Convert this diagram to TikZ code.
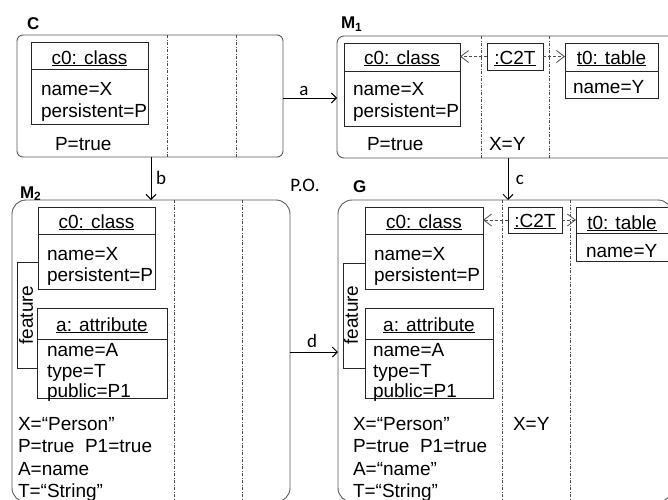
\documentclass[tikz,border=0pt]{standalone}
\usepackage{fontspec}
\setmainfont{Liberation Sans}
\newfontfamily\calib{Carlito}
\usetikzlibrary{arrows.meta}
\begin{document}
\begin{tikzpicture}[x=1pt,y=-1pt,
  txt/.style={inner sep=0pt, outer sep=0pt, font=\fontsize{19}{22}\selectfont, anchor=base west},
  ttl/.style={inner sep=0pt, outer sep=0pt, font=\fontsize{19}{22}\selectfont, anchor=base},
  lbl/.style={inner sep=0pt, outer sep=0pt, font=\fontsize{17}{20}\selectfont\bfseries, anchor=base west},
  elbl/.style={inner sep=0pt, outer sep=0pt, font=\calib\fontsize{19}{20}\selectfont},
  outerbox/.style={draw=black!65, line width=0.9pt, inner sep=0pt, outer sep=0pt},
  cls/.style={draw=black!85, line width=1pt, inner sep=0pt, outer sep=0pt},
  sep/.style={draw=black!70, line width=0.7pt, dash pattern=on 3pt off 1.5pt on 1pt off 1.5pt},
  arr/.style={draw=black, line width=0.9pt, -{Straight Barb[length=5pt,width=10pt]}},
  darr/.style={draw=black!70, line width=0.8pt, dash pattern=on 3pt off 2pt, -{Straight Barb[length=8pt,width=12pt]}},
]
\useasboundingbox (0,0) rectangle (668,499);

% ---------- outer boxes ----------
\node[outerbox, rounded corners=6pt, minimum width=266, minimum height=122] (C) at (150,96) {};
\node[outerbox, rounded corners=7pt, minimum width=353, minimum height=122] (M1) at (513.5,97) {};
\node[outerbox, rounded corners=14pt, minimum width=278, minimum height=302] (M2) at (151,351) {};
\node[outerbox, rounded corners=14pt, minimum width=334, minimum height=302] (G) at (505,351) {};

% labels
\node[lbl] (lC) at (27,29.5) {C};
\node[lbl] (lM1) at (341,28.5) {M\textsubscript{1}};
\node[lbl] (lM2) at (20,198) {M\textsubscript{2}};
\node[lbl] (lG) at (353,192) {G};
\node[elbl] (PO) at (305,185) {P.O.};

% separators
\draw[sep] (C.north -| 167,0) -- (C.south -| 167,0);
\draw[sep] (C.north -| 236,0) -- (C.south -| 236,0);
\draw[sep] (M1.north -| 481,0) -- (M1.south -| 481,0);
\draw[sep] (M1.north -| 549,0) -- (M1.south -| 549,0);
\draw[sep] (M2.north -| 174,0) -- (M2.south -| 174,0);
\draw[sep] (M2.north -| 242,0) -- (M2.south -| 242,0);
\draw[sep] (G.north -| 502,0) -- (G.south -| 502,0);
\draw[sep] (G.north -| 570,0) -- (G.south -| 570,0);

% ---------- C ----------
\node[cls, fill=white, minimum width=117, minimum height=82] (Cc0) at (89.5,83) {};
\draw[cls] (Cc0.west |- 0,69) -- (Cc0.east |- 0,69);
\node[ttl] (Cc0t) at (89.5,64) {\underline{c0: class}};
\node[txt] (Cc0a) at (41,95) {name=X};
\node[txt] (Cc0b) at (41,117) {persistent=P};
\node[txt] (Cp) at (55,150) {P=true};

% ---------- M1 ----------
\node[cls, fill=white, minimum width=116, minimum height=83] (M1c0) at (402,84.5) {};
\draw[cls] (M1c0.west |- 0,71) -- (M1c0.east |- 0,71);
\node[ttl] (M1c0t) at (402,64) {\underline{c0: class}};
\node[txt] (M1c0a) at (353,95) {name=X};
\node[txt] (M1c0b) at (353,117) {persistent=P};
\node[cls, fill=white, minimum width=56, minimum height=27] (M1m) at (515,56.5) {};
\node[ttl] (M1mt) at (515,64) {\underline{:C2T}};
\node[cls, fill=white, minimum width=93, minimum height=55] (M1t0) at (611.5,70.5) {};
\draw[cls] (M1t0.west |- 0,71) -- (M1t0.east |- 0,71);
\node[ttl] (M1t0t) at (611.5,64) {\underline{t0: table}};
\node[txt] (M1t0a) at (573,93) {name=Y};
\node[txt] (M1p) at (367,150) {P=true};
\node[txt] (M1x) at (489,150) {X=Y};
\draw[darr] (M1m.west) -- (M1c0.east |- M1m.west);
\draw[darr] (M1m.east) -- (M1t0.west |- M1m.east);

% ---------- M2 ----------
\node[cls, fill=white, minimum width=117, minimum height=82] (M2c0) at (96.5,248) {};
\draw[cls] (M2c0.west |- 0,234) -- (M2c0.east |- 0,234);
\node[ttl] (M2c0t) at (96.5,228) {\underline{c0: class}};
\node[txt] (M2c0a) at (47,260) {name=X};
\node[txt] (M2c0b) at (47,281) {persistent=P};
\node[cls, fill=white, minimum width=130, minimum height=90] (M2at) at (102,353) {};
\draw[cls] (M2at.west |- 0,339) -- (M2at.east |- 0,339);
\node[ttl] (M2att) at (102,331) {\underline{a: attribute}};
\node[txt] (M2ata) at (47,356) {name=A};
\node[txt] (M2atb) at (47,377) {type=T};
\node[txt] (M2atc) at (47,397) {public=P1};
\draw[cls] (M2c0.west |- 0,262) -- (17,262) -- (17,368) -- (M2at.west |- 0,368);
\node[inner sep=0pt, font=\fontsize{19}{22}\selectfont, rotate=90] (M2f) at (26,315) {feature};
\node[txt] (M2v1) at (18,430) {X=“Person”};
\node[txt] (M2v2) at (18,452) {P=true\ \ P1=true};
\node[txt] (M2v3) at (18,475) {A=name};
\node[txt] (M2v4) at (18,497) {T=“String”};

% ---------- G ----------
\node[cls, fill=white, minimum width=118, minimum height=82] (Gc0) at (424,248) {};
\draw[cls] (Gc0.west |- 0,234) -- (Gc0.east |- 0,234);
\node[ttl] (Gc0t) at (424,228) {\underline{c0: class}};
\node[txt] (Gc0a) at (374,260) {name=X};
\node[txt] (Gc0b) at (374,281) {persistent=P};
\node[cls, fill=white, minimum width=54, minimum height=26] (Gm) at (535,220) {};
\node[ttl] (Gmt) at (535,227) {\underline{:C2T}};
\node[cls, fill=white, minimum width=114, minimum height=54] (Gt0) at (633,234) {};
\draw[cls] (Gt0.west |- 0,233) -- (Gt0.east |- 0,233);
\node[ttl] (Gt0t) at (622,229) {\underline{t0: table}};
\node[txt] (Gt0a) at (586,257) {name=Y};
\node[cls, fill=white, minimum width=128, minimum height=90] (Gat) at (429,353) {};
\draw[cls] (Gat.west |- 0,339) -- (Gat.east |- 0,339);
\node[ttl] (Gatt) at (429,331) {\underline{a: attribute}};
\node[txt] (Gata) at (373,356) {name=A};
\node[txt] (Gatb) at (373,377) {type=T};
\node[txt] (Gatc) at (373,397) {public=P1};
\draw[cls] (Gc0.west |- 0,263) -- (343,263) -- (343,368) -- (Gat.west |- 0,368);
\node[inner sep=0pt, font=\fontsize{19}{22}\selectfont, rotate=90] (Gf) at (351,315) {feature};
\node[txt] (Gv1) at (353,430) {X=“Person”};
\node[txt] (Gv2) at (353,452) {P=true\ \ P1=true};
\node[txt] (Gv3) at (353,475) {A=“name”};
\node[txt] (Gv4) at (353,497) {T=“String”};
\node[txt] (Gx) at (513,430) {X=Y};
\draw[darr] (Gm.west) -- (Gc0.east |- Gm.west);
\draw[darr] (Gm.east) -- (Gt0.west |- Gm.east);

% ---------- morphisms ----------
\draw[arr] (C.east |- 0,98) -- (M1.west |- 0,98);
\node[elbl] (la) at (304,91) {a};
\draw[arr] (C.south -| 151,0) -- (M2.north -| 151,0);
\node[elbl] (lb) at (161,178) {b};
\draw[arr] (M1.south -| 508,0) -- (G.north -| 508,0);
\node[elbl] (lc) at (520,180) {c};
\draw[arr] (M2.east |- 0,352) -- (G.west |- 0,352);
\node[elbl] (ld) at (312,341) {d};
\end{tikzpicture}
\end{document}
